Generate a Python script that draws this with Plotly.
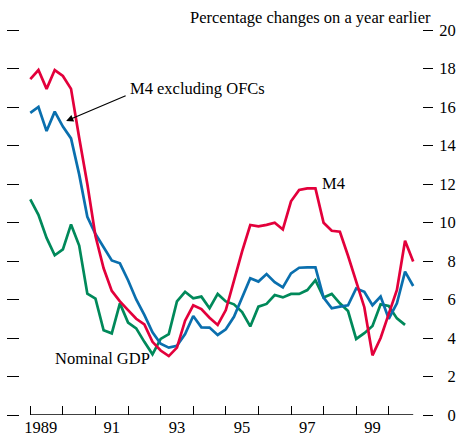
import plotly.graph_objects as go

# Quarterly data, 1989 Q1 onwards (percentage changes on a year earlier)
start_year = 1989.0
m4 = [17.45, 17.92, 16.94, 17.92, 17.61, 16.94, 14.4, 12.0, 9.3, 7.62, 6.45, 5.9,
      5.45, 5.0, 4.7, 3.8, 3.35, 3.06, 3.5, 4.9, 5.7, 5.5, 5.05, 4.68,
      5.45, 7.0, 8.5, 9.87, 9.8, 9.88, 9.99, 9.64, 11.1, 11.69, 11.77, 11.77,
      9.99, 9.57, 9.52, 8.27, 6.9, 5.6, 3.1, 4.0, 5.25, 6.5, 9.05, 7.97]
m4_ex_ofcs = [15.7, 16.0, 14.75, 15.76, 14.98, 14.37, 12.5, 10.3, 9.4, 8.74, 8.03, 7.88,
              7.0, 6.0, 5.2, 4.3, 3.7, 3.5, 3.6, 4.2, 5.14, 4.55, 4.54, 4.16,
              4.45, 5.1, 6.1, 7.1, 6.93, 7.32, 6.9, 6.63, 7.36, 7.65, 7.67, 7.67,
              6.1, 5.54, 5.63, 5.7, 6.57, 6.4, 5.7, 6.15, 5.0, 5.8, 7.45, 6.7]
nominal_gdp = [11.2, 10.4, 9.2, 8.3, 8.6, 9.9, 8.8, 6.3, 6.05, 4.4, 4.24, 5.8,
               4.8, 4.5, 3.8, 3.15, 3.95, 4.2, 5.9, 6.4, 6.06, 6.15, 5.55, 6.29,
               5.9, 5.75, 5.35, 4.6, 5.63, 5.77, 6.23, 6.11, 6.29, 6.29, 6.49, 7.0,
               6.11, 6.29, 5.8, 5.4, 3.95, 4.25, 4.62, 5.75, 5.66, 5.02, 4.68]

year_ticks = list(range(1989, 2001))
year_label_pos = [1989.32, 1991.5, 1993.5, 1995.5, 1997.5, 1999.5]
year_labels = ["1989", "91", "93", "95", "97", "99"]
y_ticks = list(range(0, 21, 2))
y_labels = [("\u2007" + str(v)) if v < 10 else str(v) for v in y_ticks]

def qdates(n):
    return [start_year + 0.25 * i for i in range(n)]

RED = "#E3003B"
BLUE = "#0A6FAE"
GREEN = "#00895A"
FONT = "Liberation Serif"
FS = 16.5

fig = go.Figure()
fig.add_trace(go.Scatter(x=qdates(len(nominal_gdp)), y=nominal_gdp, mode="lines",
                         line=dict(color=GREEN, width=2.7), name="Nominal GDP"))
fig.add_trace(go.Scatter(x=qdates(len(m4_ex_ofcs)), y=m4_ex_ofcs, mode="lines",
                         line=dict(color=BLUE, width=2.7), name="M4 excluding OFCs"))
fig.add_trace(go.Scatter(x=qdates(len(m4)), y=m4, mode="lines",
                         line=dict(color=RED, width=2.7), name="M4"))
# invisible helper so the overlay axes render
fig.add_trace(go.Scatter(x=[1995], y=[10], xaxis="x2", yaxis="y2", mode="markers",
                         marker=dict(opacity=0), hoverinfo="skip", showlegend=False))

xr = [1988.684, 2001.02]
fig.update_layout(
    width=459, height=437,
    margin=dict(l=20, r=37, t=30, b=22, autoexpand=False),
    plot_bgcolor="white", paper_bgcolor="white",
    showlegend=False,
    font=dict(family=FONT, size=FS, color="black"),
    xaxis=dict(range=xr, showgrid=False, zeroline=False, showline=False,
               tickvals=year_ticks, ticks="inside", ticklen=9, tickwidth=1.3,
               tickcolor="black", showticklabels=False, automargin=False),
    xaxis2=dict(range=xr, overlaying="x", side="bottom", anchor="y", showgrid=False,
                zeroline=False, showline=False, tickvals=year_label_pos,
                ticktext=year_labels, ticks="", automargin=False,
                tickfont=dict(family=FONT, size=FS)),
    yaxis=dict(range=[0, 20], side="right", showgrid=False, zeroline=False,
               showline=False, tickvals=y_ticks, ticktext=y_labels, ticks="outside",
               ticklen=10, tickwidth=1.3, tickcolor="black", automargin=False,
               ticklabelstandoff=3, tickfont=dict(family=FONT, size=FS)),
    yaxis2=dict(range=[0, 20], overlaying="y", side="left", showgrid=False,
                zeroline=False, showline=False, tickvals=y_ticks, ticks="outside",
                ticklen=12, tickwidth=1.3, tickcolor="black", showticklabels=False,
                automargin=False),
)

# x axis baseline spanning the data period
fig.add_shape(type="line", xref="x", yref="y", x0=1989.0, x1=2000.75, y0=0, y1=0,
              line=dict(color="black", width=1.3))

fig.add_annotation(text="Percentage changes on a year earlier", xref="paper", yref="paper",
                   x=(433 - 20) / 402, y=1 + (30 - 18) / 385, xanchor="right",
                   yanchor="middle", showarrow=False, font=dict(family=FONT, size=FS))
fig.add_annotation(text="M4 excluding OFCs", xref="x", yref="y", x=1992.0, y=16.94,
                   xanchor="left", yanchor="middle", showarrow=False,
                   font=dict(family=FONT, size=FS))
fig.add_annotation(text="", xref="x", yref="y", x=1990.10, y=15.27, ax=61, ay=-26,
                   showarrow=True, arrowhead=2, arrowsize=1.2, arrowwidth=1.2,
                   arrowcolor="black")
fig.add_annotation(text="M4", xref="x", yref="y", x=1997.89, y=12.05, xanchor="left",
                   yanchor="middle", showarrow=False, font=dict(family=FONT, size=FS))
fig.add_annotation(text="Nominal GDP", xref="x", yref="y", x=1989.70, y=2.91,
                   xanchor="left", yanchor="middle", showarrow=False,
                   font=dict(family=FONT, size=FS))

fig.write_html("out.html", config={"displayModeBar": False},
               post_script="document.body.style.margin='0';document.body.style.overflow='hidden';")
